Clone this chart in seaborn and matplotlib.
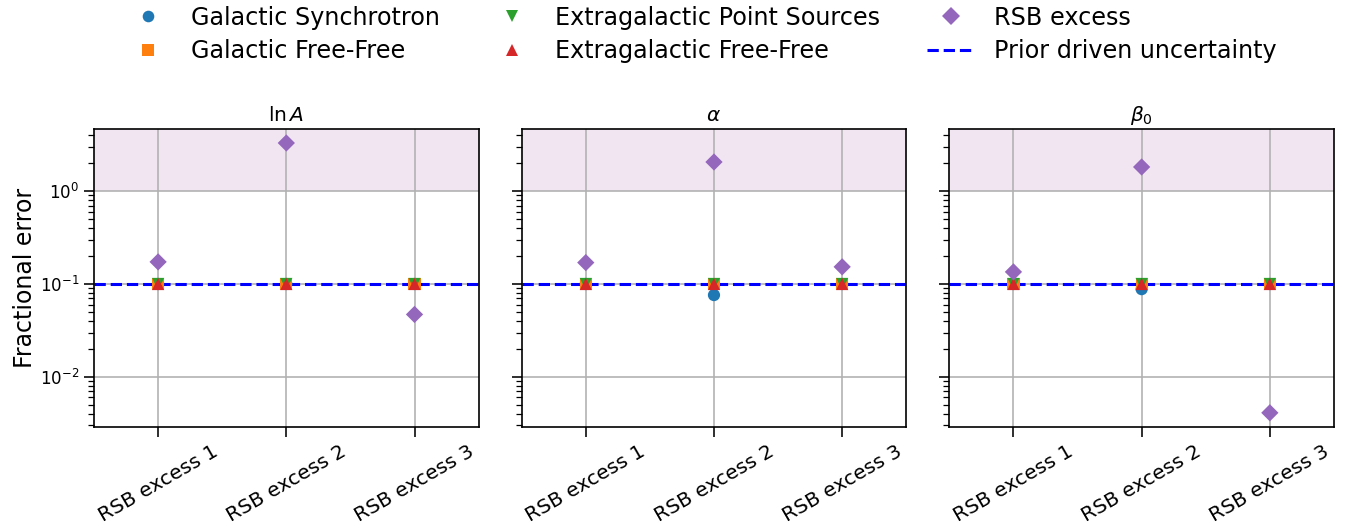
import matplotlib
matplotlib.use("Agg")
import matplotlib.pyplot as plt
from matplotlib.lines import Line2D
import numpy as np
import pandas as pd
import seaborn as sns

categories = ["RSB excess 1", "RSB excess 2", "RSB excess 3"]
params = [r"$\ln A$", r"$\alpha$", r"$\beta_0$"]
components = ["Galactic Synchrotron", "Galactic Free-Free",
              "Extragalactic Point Sources", "Extragalactic Free-Free", "RSB excess"]

# fractional errors per parameter panel
sync_vals = [[0.1, 0.1, 0.1], [0.1, 0.076, 0.1], [0.1, 0.088, 0.1]]
gff_vals = [[0.1, 0.1, 0.1], [0.1, 0.1, 0.1], [0.1, 0.1, 0.1]]
eps_vals = [[0.1, 0.1, 0.1], [0.1, 0.1, 0.1], [0.1, 0.1, 0.1]]
eff_vals = [[0.1, 0.1, 0.1], [0.1, 0.1, 0.1], [0.1, 0.1, 0.1]]
rsb_vals = [[0.173, 3.3, 0.047], [0.17, 2.06, 0.153], [0.135, 1.82, 0.0041]]
prior_level = 0.1

colors = {"Galactic Synchrotron": "#1f77b4", "Galactic Free-Free": "#ff7f0e",
          "Extragalactic Point Sources": "#2ca02c", "Extragalactic Free-Free": "#d62728",
          "RSB excess": "#9467bd"}
markers = {"Galactic Synchrotron": "o", "Galactic Free-Free": "s",
           "Extragalactic Point Sources": "v", "Extragalactic Free-Free": "^",
           "RSB excess": "D"}

all_vals = [sync_vals, gff_vals, eps_vals, eff_vals, rsb_vals]

fig, axes = plt.subplots(1, 3, figsize=(13.47, 5.29), dpi=100, sharey=True)
fig.subplots_adjust(left=0.0698, right=0.9903, bottom=0.193, top=0.756, wspace=0.112)

ms = 8.8
for p, ax in enumerate(axes):
    rows = []
    for comp, vals in zip(components, all_vals):
        for cat, v in zip(categories, vals[p]):
            rows.append({"category": cat, "value": v, "component": comp})
    df = pd.DataFrame(rows)
    ax.axhspan(1, 1000, color="purple", alpha=0.1, lw=0, zorder=0)
    ax.axhline(prior_level, color="b", ls="--", lw=2.2, zorder=2)
    sns.scatterplot(data=df, x="category", y="value", hue="component", style="component",
                    palette=colors, markers=markers, s=ms**2, linewidth=0,
                    ax=ax, legend=False, zorder=3)
    ax.set_yscale("log")
    ax.set_ylim(0.00289, 4.66)
    ax.set_xlim(-0.5, 2.5)
    ax.set_xticks(range(len(categories)))
    ax.set_xticklabels(categories, rotation=30, ha="center")
    ax.set_xlabel("")
    ax.set_ylabel("")
    ax.set_title(params[p], fontsize=14.5)
    ax.grid(True, which="major", color="#b0b0b0", lw=1.15)
    ax.set_axisbelow(True)
    ax.tick_params(which="major", length=7, width=1.15)
    ax.tick_params(axis="x", labelsize=14.5)
    ax.tick_params(axis="y", labelsize=12)
    ax.tick_params(which="minor", length=4.3, width=0.9)
    for sp in ax.spines.values():
        sp.set_linewidth(1.2)

axes[0].set_ylabel("Fractional error", fontsize=17, labelpad=2)

handles = [Line2D([], [], ls="none", marker=markers[c], color=colors[c], markersize=ms * 0.95
                  if c != "RSB excess" else ms, markeredgewidth=0, label=c) for c in components]
handles.append(Line2D([], [], color="b", ls="--", lw=2.2, label="Prior driven uncertainty"))
fig.legend(handles=handles, ncol=3, loc="upper center", bbox_to_anchor=(0.52, 1.03),
           frameon=False, fontsize=17.2, labelspacing=0.4)

fig.savefig("out.png", dpi=100)
